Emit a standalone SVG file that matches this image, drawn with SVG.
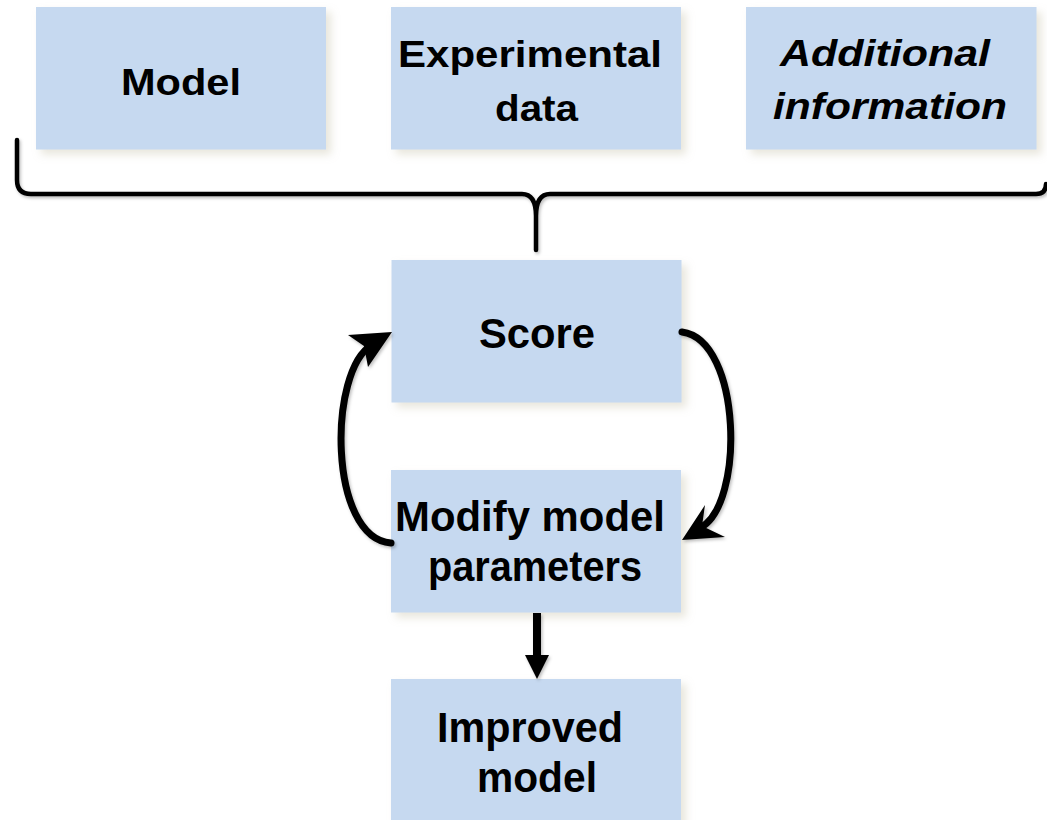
<svg xmlns="http://www.w3.org/2000/svg" width="1047" height="820" viewBox="0 0 1047 820">
<style>
.box{fill:#c6d9f0;filter:url(#sh);}
.t{font-family:"Liberation Sans",Arial,sans-serif;font-weight:bold;fill:#000;text-anchor:middle;}
.top{font-size:36px;}
.low{font-size:42px;}
.it{font-style:italic;}
.ln{fill:none;stroke:#000;stroke-linecap:round;stroke-linejoin:round;}
</style>
<defs>
<filter id="sh" x="-10%" y="-10%" width="125%" height="130%">
<feDropShadow dx="5" dy="5" stdDeviation="4" flood-color="#bdb79a" flood-opacity="0.35"/>
</filter>
<filter id="lsh" x="-5%" y="-5%" width="110%" height="120%">
<feDropShadow dx="1.5" dy="2" stdDeviation="1.5" flood-color="#000" flood-opacity="0.25"/>
</filter>
</defs>
<rect width="1047" height="820" fill="#fff"/>
<g id="model">
<rect class="box" x="36" y="7" width="290" height="142.5"/>
<text class="t top" x="181" y="95" textLength="120" lengthAdjust="spacingAndGlyphs">Model</text>
</g>
<g id="experimental-data">
<rect class="box" x="391" y="7" width="290" height="142.5"/>
<text class="t top" x="530" y="67" textLength="264" lengthAdjust="spacingAndGlyphs">Experimental</text>
<text class="t top" x="536.5" y="121" textLength="83" lengthAdjust="spacingAndGlyphs">data</text>
</g>
<g id="additional-information">
<rect class="box" x="746" y="7" width="290.5" height="142.5"/>
<text class="t top it" x="885" y="66" textLength="210" lengthAdjust="spacingAndGlyphs">Additional</text>
<text class="t top it" x="890" y="119" textLength="234" lengthAdjust="spacingAndGlyphs">information</text>
</g>
<g id="score">
<rect class="box" x="391.5" y="260" width="290" height="142.5"/>
<text class="t low" x="537" y="348" textLength="116" lengthAdjust="spacingAndGlyphs">Score</text>
</g>
<g id="modify">
<rect class="box" x="391" y="470" width="290" height="142.5"/>
<text class="t low" x="530" y="531" textLength="270" lengthAdjust="spacingAndGlyphs">Modify model</text>
<text class="t low" x="535" y="581" textLength="214" lengthAdjust="spacingAndGlyphs">parameters</text>
</g>
<g id="improved">
<rect class="box" x="391" y="679" width="290" height="150"/>
<text class="t low" x="530" y="742" textLength="186" lengthAdjust="spacingAndGlyphs">Improved</text>
<text class="t low" x="537" y="792" textLength="120" lengthAdjust="spacingAndGlyphs">model</text>
</g>
<g id="connectors" filter="url(#lsh)">
<path class="ln" stroke-width="4.5" d="M17,140 V180 Q17,194 31,194 H522 Q536,194 536,216 V250 M536,216 Q536,194 550,194 H1036 Q1046,194 1046,184"/>
<path class="ln" stroke-width="7" d="M391,543 C328,538 328,370 372,345"/>
<polygon points="392,332 348,335 364,346 368,367" fill="#000"/>
<path class="ln" stroke-width="7" d="M682,332 C742,340 745,505 700,528"/>
<polygon points="682,540 705,505 702,526 725,537" fill="#000"/>
<line x1="537" y1="613" x2="537" y2="658" stroke="#000" stroke-width="8"/>
<polygon points="525,655 549,655 537,679" fill="#000"/>
</g>
</svg>
